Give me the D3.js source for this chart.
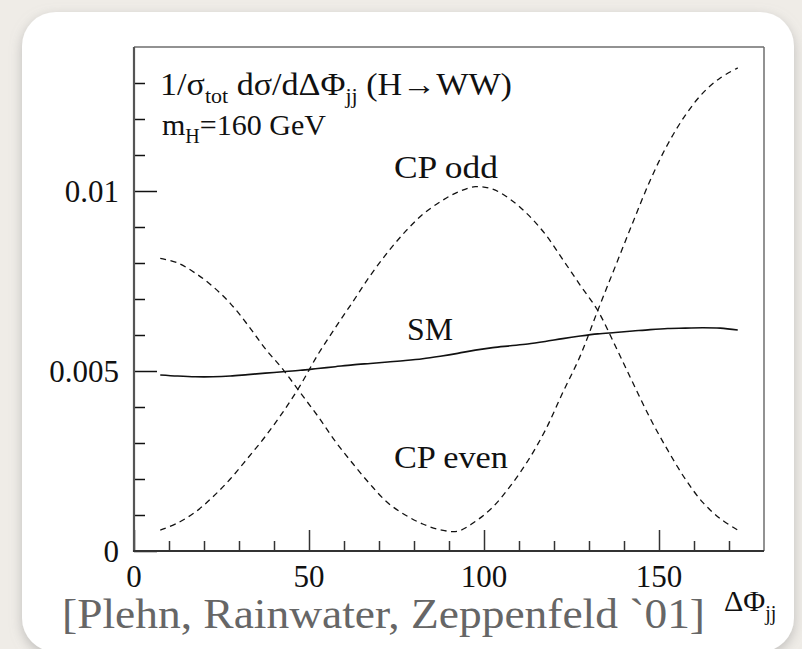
<!DOCTYPE html>
<html>
<head>
<meta charset="utf-8">
<script src="https://cdn.jsdelivr.net/npm/d3@7"></script>
<style>
  html, body { margin: 0; padding: 0; background: #efece7; }
  svg { display: block; }
  text { font-family: "Liberation Serif", "Times New Roman", serif; }
</style>
</head>
<body>
<svg id="chart" width="802" height="649"></svg>
<script>
// ---- data ----
const phi = [7.5, 12.5, 17.5, 22.5, 27.5, 32.5, 37.5, 42.5, 47.5, 52.5, 57.5, 62.5, 67.5, 72.5, 77.5, 82.5, 87.5,
             92.5, 97.5, 102.5, 107.5, 112.5, 117.5, 122.5, 127.5, 132.5, 137.5, 142.5, 147.5, 152.5, 157.5, 162.5, 167.5, 172.5];
const cpEven = [0.00813, 0.00800, 0.00772, 0.00735, 0.00688, 0.00628, 0.00562, 0.00505, 0.00440, 0.00375, 0.00305,
                0.00243, 0.00185, 0.00134, 0.00100, 0.00075, 0.00059, 0.00055, 0.00082, 0.00122, 0.00180, 0.00250,
                0.00335, 0.00440, 0.00542, 0.00668, 0.00790, 0.00912, 0.01030, 0.01130, 0.01210, 0.01272, 0.01314, 0.01342];
const cpOdd = [0.00058, 0.00078, 0.00108, 0.00150, 0.00200, 0.00258, 0.00318, 0.00385, 0.00460, 0.00545, 0.00620,
               0.00692, 0.00765, 0.00830, 0.00887, 0.00935, 0.00970, 0.00997, 0.01012, 0.01005, 0.00977, 0.00935,
               0.00880, 0.00810, 0.00738, 0.00668, 0.00570, 0.00468, 0.00368, 0.00280, 0.00200, 0.00135, 0.00090, 0.00058];
const sm = [0.00489, 0.00486, 0.00484, 0.00484, 0.00486, 0.00490, 0.00494, 0.00498, 0.00502, 0.00507, 0.00512,
            0.00517, 0.00521, 0.00525, 0.00529, 0.00534, 0.00541, 0.00549, 0.00558, 0.00565, 0.00570, 0.00575,
            0.00582, 0.00590, 0.00597, 0.00603, 0.00607, 0.00611, 0.00615, 0.00618, 0.00619, 0.00620, 0.00619, 0.00614];

const xMajorTicks = [0, 50, 100, 150];
const xMinorTicks = [10, 20, 30, 40, 60, 70, 80, 90, 110, 120, 130, 140, 160, 170];
const yMajorTicks = [0, 0.005, 0.01];
const yTickLabels = ["0", "0.005", "0.01"];
const yMinorTicks = [0.001, 0.002, 0.003, 0.004, 0.006, 0.007, 0.008, 0.009, 0.011, 0.012, 0.013];

// ---- layout ----
const svg = d3.select("#chart");
const L = 134, R = 764, T = 47, B = 551;
const x = d3.scaleLinear().domain([0, 180]).range([L, R]);
const y = d3.scaleLinear().domain([0, 0.014]).range([B, T]);

// background panel
const defs = svg.append("defs");
const f = defs.append("filter").attr("id", "sh").attr("x", "-10%").attr("y", "-10%").attr("width", "120%").attr("height", "120%");
f.append("feDropShadow").attr("dx", 0).attr("dy", 4).attr("stdDeviation", 6).attr("flood-color", "#999").attr("flood-opacity", 0.55);
svg.append("rect").attr("width", 802).attr("height", 649).attr("fill", "#efece7");
svg.append("rect").attr("x", 22).attr("y", 12).attr("width", 772).attr("height", 640).attr("rx", 34)
  .attr("fill", "#ffffff").attr("filter", "url(#sh)");

// frame: top & right (lighter)
svg.append("line").attr("x1", L).attr("x2", R).attr("y1", T).attr("y2", T).attr("stroke", "#6e6e6e").attr("stroke-width", 1.5);
svg.append("line").attr("x1", R).attr("x2", R).attr("y1", T).attr("y2", B).attr("stroke", "#6e6e6e").attr("stroke-width", 1.5);

// y axis
const yAxis = d3.axisRight(y).tickValues(yMajorTicks).tickSize(23).tickFormat("");
const gy = svg.append("g").attr("transform", `translate(${L},0)`).call(yAxis);
gy.select(".domain").remove();
gy.selectAll(".tick line").attr("stroke", "#111").attr("stroke-width", 1.5);
const yAxisMinor = d3.axisRight(y).tickValues(yMinorTicks).tickSize(11).tickFormat("");
const gym = svg.append("g").attr("transform", `translate(${L},0)`).call(yAxisMinor);
gym.select(".domain").remove();
gym.selectAll(".tick line").attr("stroke", "#111").attr("stroke-width", 1.5);

// x axis
const xAxis = d3.axisTop(x).tickValues(xMajorTicks).tickSize(21).tickFormat("");
const gx = svg.append("g").attr("transform", `translate(0,${B})`).call(xAxis);
gx.select(".domain").remove();
gx.selectAll(".tick line").attr("stroke", "#333").attr("stroke-width", 1.5);
const xAxisMinor = d3.axisTop(x).tickValues(xMinorTicks).tickSize(10).tickFormat("");
const gxm = svg.append("g").attr("transform", `translate(0,${B})`).call(xAxisMinor);
gxm.select(".domain").remove();
gxm.selectAll(".tick line").attr("stroke", "#333").attr("stroke-width", 1.5);

// axis lines (left & bottom)
svg.append("line").attr("x1", L).attr("x2", L).attr("y1", T).attr("y2", B + 1).attr("stroke", "#555").attr("stroke-width", 2.2);
svg.append("line").attr("x1", L - 1).attr("x2", R).attr("y1", B).attr("y2", B).attr("stroke", "#333").attr("stroke-width", 2.2);

// tick labels
svg.selectAll(".ylab").data(yMajorTicks).enter().append("text")
  .attr("x", L - 15).attr("y", d => y(d)).attr("dy", "0.35em")
  .attr("text-anchor", "end").attr("font-size", 31).attr("fill", "#111")
  .text((d, i) => yTickLabels[i]);
svg.selectAll(".xlab").data(xMajorTicks).enter().append("text")
  .attr("x", d => x(d)).attr("y", 587)
  .attr("text-anchor", "middle").attr("font-size", 31).attr("fill", "#111")
  .text(d => d);

// curves
const line = d3.line().x(d => x(d[0])).y(d => y(d[1])).curve(d3.curveCatmullRom.alpha(0.5));
const series = [
  { v: cpEven, dash: "6,4.5", w: 1.3 },
  { v: cpOdd, dash: "6,4.5", w: 1.3 },
  { v: sm, dash: null, w: 1.6 }
];
series.forEach(s => {
  svg.append("path").datum(phi.map((p, i) => [p, s.v[i]]))
    .attr("d", line).attr("fill", "none").attr("stroke", "#111")
    .attr("stroke-width", s.w).attr("stroke-dasharray", s.dash);
});

// curve labels
svg.append("text").attr("x", 394).attr("y", 178).attr("font-size", 31).attr("fill", "#111")
  .attr("textLength", 104).attr("lengthAdjust", "spacingAndGlyphs").text("CP odd");
svg.append("text").attr("x", 407).attr("y", 340).attr("font-size", 31).attr("fill", "#111")
  .attr("textLength", 46).attr("lengthAdjust", "spacingAndGlyphs").text("SM");
svg.append("text").attr("x", 394).attr("y", 468).attr("font-size", 31).attr("fill", "#111")
  .attr("textLength", 114).attr("lengthAdjust", "spacingAndGlyphs").text("CP even");

// title
const t1 = svg.append("text").attr("x", 160).attr("y", 95).attr("font-size", 31).attr("fill", "#111");
t1.append("tspan").text("1/σ");
t1.append("tspan").attr("font-size", 20).attr("dy", 8).text("tot");
t1.append("tspan").attr("dy", -8).text(" dσ/dΔΦ");
t1.append("tspan").attr("font-size", 20).attr("dy", 8).text("jj");
t1.append("tspan").attr("dy", -8).text(" (H→WW)");
t1.attr("textLength", 352).attr("lengthAdjust", "spacingAndGlyphs");
const t2 = svg.append("text").attr("x", 162).attr("y", 135).attr("font-size", 30).attr("fill", "#111");
t2.append("tspan").text("m");
t2.append("tspan").attr("font-size", 20).attr("dy", 8).text("H");
t2.append("tspan").attr("dy", -8).text("=160 GeV");

// x axis title
const xt = svg.append("text").attr("x", 724).attr("y", 611).attr("font-size", 30).attr("fill", "#111");
xt.append("tspan").text("ΔΦ");
xt.append("tspan").attr("font-size", 20).attr("dy", 9).text("jj");

// citation
svg.append("text").attr("x", 62).attr("y", 628).attr("font-size", 42).attr("fill", "#666")
  .attr("textLength", 643).attr("lengthAdjust", "spacingAndGlyphs")
  .text("[Plehn, Rainwater, Zeppenfeld `01]");
</script>
</body>
</html>
